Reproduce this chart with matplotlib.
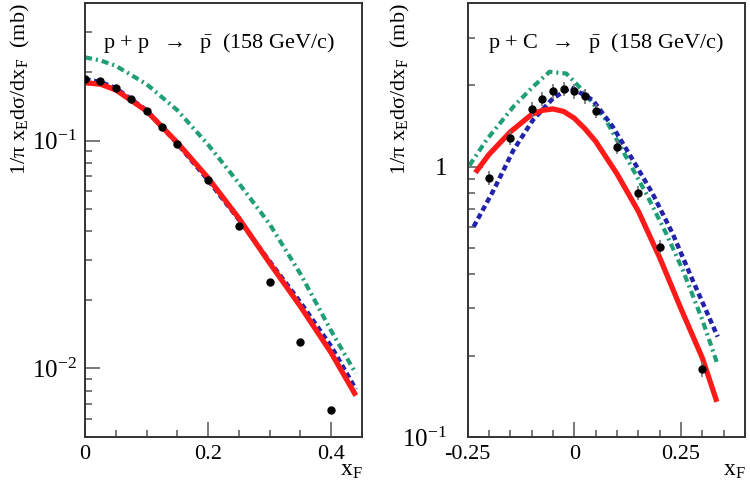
import numpy as np
import matplotlib.pyplot as plt
from matplotlib.ticker import FixedLocator, MultipleLocator, NullFormatter

plt.rcParams['font.family'] = ['Liberation Serif', 'DejaVu Serif']
plt.rcParams['mathtext.fontset'] = 'custom'
plt.rcParams['mathtext.rm'] = 'Liberation Serif'
plt.rcParams['mathtext.it'] = 'Liberation Serif:italic'

# ---------------- p + p -> pbar ----------------
xf_pp = [0.0, 0.025, 0.05, 0.075, 0.1, 0.125, 0.15, 0.2, 0.25, 0.3, 0.35, 0.4]
y_pp = [0.187, 0.182, 0.170, 0.152, 0.135, 0.115, 0.097, 0.067, 0.042, 0.024, 0.0131, 0.0066]

x_pp_curve = [0.0, 0.025, 0.05, 0.1, 0.15, 0.2, 0.25, 0.3, 0.35, 0.4, 0.44]
red_pp = [0.1795, 0.177, 0.167, 0.135, 0.098, 0.0686, 0.0456, 0.029, 0.0187, 0.0117, 0.0076]
blue_pp = [0.186, 0.181, 0.170, 0.136, 0.097, 0.067, 0.045, 0.0295, 0.0195, 0.0125, 0.0081]
green_pp = [0.232, 0.225, 0.213, 0.177, 0.136, 0.096, 0.065, 0.043, 0.026, 0.0146, 0.0095]

# ---------------- p + C -> pbar ----------------
xf_pc = [-0.2, -0.15, -0.1, -0.075, -0.05, -0.025, 0.0, 0.025, 0.05, 0.1, 0.15, 0.2, 0.3]
y_pc = [0.91, 1.28, 1.63, 1.78, 1.90, 1.94, 1.90, 1.82, 1.61, 1.185, 0.80, 0.506, 0.178]
err_pc = [0.06 * v for v in y_pc]

x_red_pc = [-0.232, -0.2, -0.15, -0.1, -0.075, -0.05, -0.025, 0.0, 0.025, 0.05, 0.1, 0.15, 0.2, 0.25, 0.3, 0.334]
red_pc = [0.95, 1.11, 1.345, 1.56, 1.615, 1.635, 1.60, 1.51, 1.38, 1.24, 0.94, 0.684, 0.461, 0.298, 0.196, 0.135]

x_blue_pc = [-0.236, -0.189, -0.143, -0.097, -0.05, -0.008, 0.043, 0.09, 0.137, 0.183, 0.23, 0.277, 0.336]
blue_pc = [0.60, 0.82, 1.15, 1.488, 1.79, 1.965, 1.764, 1.405, 1.059, 0.797, 0.567, 0.381, 0.235]

x_green_pc = [-0.246, -0.206, -0.143, -0.097, -0.058, -0.019, 0.019, 0.074, 0.121, 0.168, 0.215, 0.254, 0.30, 0.336]
green_pc = [1.01, 1.255, 1.666, 1.975, 2.244, 2.21, 1.92, 1.488, 1.089, 0.797, 0.567, 0.415, 0.271, 0.185]

red = '#ff1a1a'
blue = '#2222aa'
green = '#1f9e78'
frame = '#333333'

fig = plt.figure(figsize=(7.5, 4.92), dpi=100)
ax1 = fig.add_axes([85 / 750, 55 / 492, 277 / 750, 434 / 492])
ax2 = fig.add_axes([467.7 / 750, 55 / 492, 277.3 / 750, 434 / 492])


def draw_curves(ax, xr, yr, xb, yb, xg, yg):
    ax.plot(xg, yg, color=green, lw=3.0, linestyle=(0, (1.7, 0.95, 0.5, 0.95)))
    ax.plot(xb, yb, color=blue, lw=3.2, linestyle=(0, (1.25, 0.8)))
    ax.plot(xr, yr, color=red, lw=3.8, solid_capstyle='butt')


draw_curves(ax1, x_pp_curve, red_pp, x_pp_curve, blue_pp, x_pp_curve, green_pp)
ax1.plot(xf_pp, y_pp, 'o', color='black', markersize=5, zorder=5)

draw_curves(ax2, x_red_pc, red_pc, x_blue_pc, blue_pc, x_green_pc, green_pc)
ax2.errorbar(xf_pc, y_pc, yerr=err_pc, fmt='o', color='black', ecolor='#777777',
             elinewidth=1.2, capsize=0, markersize=5, zorder=5)

for ax in (ax1, ax2):
    ax.set_yscale('log')
    for s in ax.spines.values():
        s.set_color(frame)
        s.set_linewidth(1.4)
    ax.tick_params(which='both', direction='in', top=False, right=False,
                   color='#555555', width=1.1, labelsize=16, pad=6)
    ax.tick_params(which='major', length=11)
    ax.tick_params(which='minor', length=5)
    ax.xaxis.set_minor_locator(MultipleLocator(0.05))

# left panel axes
ax1.set_xlim(0, 0.45)
ax1.set_ylim(0.005, 0.402)
ax1.xaxis.set_major_locator(FixedLocator([0, 0.2, 0.4]))
ax1.set_xticklabels(['0', '0.2', '0.4'])
ax1.yaxis.set_major_locator(FixedLocator([0.01, 0.1]))
ax1.set_yticklabels([r'$10^{-2}$', r'$10^{-1}$'], fontsize=18)
ax1.yaxis.set_minor_locator(FixedLocator([0.005, 0.006, 0.007, 0.008, 0.009,
                                          0.02, 0.03, 0.04, 0.05, 0.06, 0.07, 0.08, 0.09, 0.2, 0.3]))
ax1.yaxis.set_minor_formatter(NullFormatter())

# right panel axes
ax2.set_xlim(-0.25, 0.4)
ax2.set_ylim(0.1, 4.03)
ax2.xaxis.set_major_locator(FixedLocator([-0.25, 0, 0.25]))
ax2.set_xticklabels(['-0.25', '0', '0.25'])
ax2.yaxis.set_major_locator(FixedLocator([0.1, 1]))
ax2.set_yticklabels([r'$10^{-1}$', '1'], fontsize=18)
ax2.yaxis.set_minor_locator(FixedLocator([0.2, 0.3, 0.4, 0.5, 0.6, 0.7, 0.8, 0.9, 2, 3]))
ax2.yaxis.set_minor_formatter(NullFormatter())
ax2.tick_params(axis='y', which='major', pad=15)

# panel captions
ax1.text(0.065, 0.908, r'p + p  $\rightarrow$  $\bar{\mathrm{p}}$  (158 GeV/c)',
         transform=ax1.transAxes, fontsize=16, va='center', ha='left')
ax2.text(0.072, 0.908, r'p + C  $\rightarrow$  $\bar{\mathrm{p}}$  (158 GeV/c)',
         transform=ax2.transAxes, fontsize=16, va='center', ha='left')

# axis titles
ylab = r'1/π x$_{\rm E}$dσ/dx$_{\rm F}$  (mb)'
fig.text(20 / 750, 1 - 3 / 492, ylab, rotation=90, ha='center', va='top', fontsize=16)
fig.text(400 / 750, 1 - 3 / 492, ylab, rotation=90, ha='center', va='top', fontsize=16)
fig.text(363 / 750, 1 - 470 / 492, r'x$_{\rm F}$', ha='right', va='center', fontsize=17)
fig.text(746 / 750, 1 - 470 / 492, r'x$_{\rm F}$', ha='right', va='center', fontsize=17)

fig.savefig('out.png', dpi=100)
